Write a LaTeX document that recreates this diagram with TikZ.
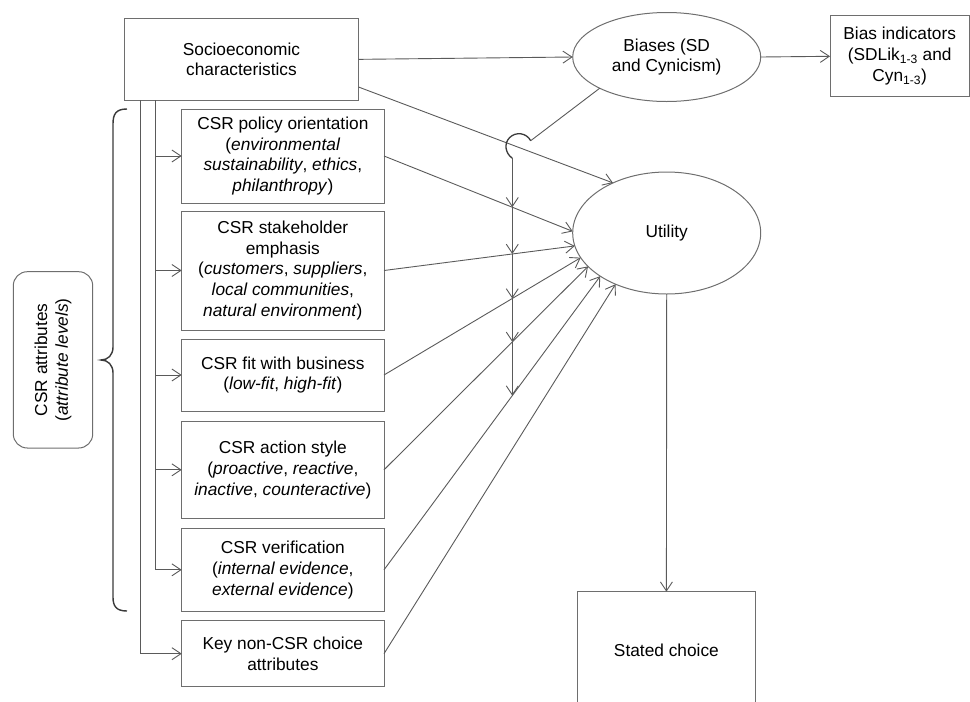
\documentclass[tikz,border=0pt]{standalone}
\usepackage{fontspec}
\setmainfont{Liberation Sans}
\usetikzlibrary{arrows.meta,calc,intersections,shapes.geometric}
\definecolor{linegray}{HTML}{5A5A5A}
\definecolor{boxgray}{HTML}{6E6E6E}
\definecolor{bracecol}{HTML}{3A3A3A}
\tikzset{
  lc/.style={draw=linegray, line width=0.9pt},
  box/.style={draw=boxgray, line width=1pt, rectangle, inner sep=0pt, outer sep=0pt,
    align=center, text=black, font=\fontsize{17.3}{20.8}\selectfont},
  ell/.style={box, ellipse},
  arr/.style={lc, -{Straight Barb[length=9pt,width=12pt]}},
  lbox/.style={box, minimum width=202.3},
}
\begin{document}
\begin{tikzpicture}[x=1pt,y=-1pt]
\useasboundingbox (0,0) rectangle (970,702);
\clip (0,0) rectangle (970,702);

% nodes
\node[box, minimum width=234, minimum height=81.3] (socio) at (241.5,59.35) {Socioeconomic\\characteristics};
\node[lbox, minimum height=94] (pol) at (282.85,156) {CSR policy orientation\\(\textit{environmental}\\\textit{sustainability}, \textit{ethics},\\\textit{philanthropy})};
\node[lbox, minimum height=119] (stk) at (282.85,270.5) {CSR stakeholder\\emphasis\\(\textit{customers}, \textit{suppliers},\\\textit{local communities},\\\textit{natural environment})};
\node[lbox, minimum height=72] (fit) at (282.85,375) {CSR fit with business\\(\textit{low-fit}, \textit{high-fit})};
\node[lbox, minimum height=97.7] (act) at (282.85,469.85) {CSR action style\\(\textit{proactive}, \textit{reactive},\\\textit{inactive}, \textit{counteractive})};
\node[lbox, minimum height=82.3] (ver) at (282.85,569.85) {CSR verification\\(\textit{internal evidence},\\\textit{external evidence})};
\node[lbox, minimum height=66] (key) at (282.85,653.7) {Key non-CSR choice\\attributes};

\node[ell, minimum width=188, minimum height=89] (bias) at (666.7,57) {Biases (SD\\and Cynicism)};
\node[box, minimum width=139.3, minimum height=80.7] (ind) at (899.7,56.3) {Bias indicators\\(SDLik\textsubscript{1-3} and\\Cyn\textsubscript{1-3})};
\node[ell, minimum width=188, minimum height=122] (util) at (666.7,233) {Utility};
\node[box, minimum width=177.3, minimum height=116.6] (sc) at (666.4,650) {Stated choice};
\node[box, rounded corners=14pt, rotate=90, minimum width=176.3, minimum height=79.4] (csr) at (53,359.85) {CSR attributes\\(\textit{attribute levels})};

% brace
\draw[bracecol, line width=1.4pt] (127,109) .. controls (116,109) and (113,114) .. (113,124)
  -- (113,347) .. controls (113,355) and (108,360) .. (101,360)
  .. controls (108,360) and (113,365) .. (113,373)
  -- (113,597) .. controls (113,606) and (116,611) .. (127,611);

% socio connectors
\draw[arr] (socio.east) -- (bias.west);
\draw[arr] (bias.east) -- (ind.west);
\draw[arr] ($(socio.south east)+(0,-13)$) -- (util.137);
\draw[arr] (util.south) -- (sc.north);

% trunks
\coordinate (t1) at ($(socio.south west)+(16.2,0)$);
\coordinate (t2) at ($(socio.south west)+(31.2,0)$);
\draw[arr] (t1) |- (key.west);
\draw[arr] (t2) |- (ver.west);
\foreach \n in {pol,stk,fit,act}{
  \draw[arr] (t2 |- \n.west) -- (\n.west);
}

% attribute paths to utility
\draw[arr, name path=p1] (pol.east) -- (util.179);
\draw[arr, name path=p2] (stk.east) -- (util.188);
\draw[arr, name path=p3] (fit.east) -- (util.196);
\draw[arr, name path=p4] (act.east) -- (util.203);
\draw[arr, name path=p5] (ver.east) -- (util.213);
\draw[arr] (key.east) -- (util.225);

% moderation by biases
\coordinate (hs) at (530.7,140.7);
\coordinate (he) at (512.3,158.2);
\path[name path=pv] (he) -- (512.3,430);
\path[name intersections={of=pv and p1, by=i1}];
\path[name intersections={of=pv and p2, by=i2}];
\path[name intersections={of=pv and p3, by=i3}];
\path[name intersections={of=pv and p4, by=i4}];
\path[name intersections={of=pv and p5, by=i5}];
\draw[lc] (bias.205) -- (hs);
\draw[bracecol, line width=1.3pt] (hs) .. controls (526.5,132.8) and (515.9,131.3) .. (509.6,137.6)
  .. controls (503.6,143.6) and (505.4,153.5) .. (he);
\draw[arr] (he) -- (i1);
\draw[arr] (i1) -- (i2);
\draw[arr] (i2) -- (i3);
\draw[arr] (i3) -- (i4);
\draw[arr] (i4) -- (i5);
\end{tikzpicture}
\end{document}
